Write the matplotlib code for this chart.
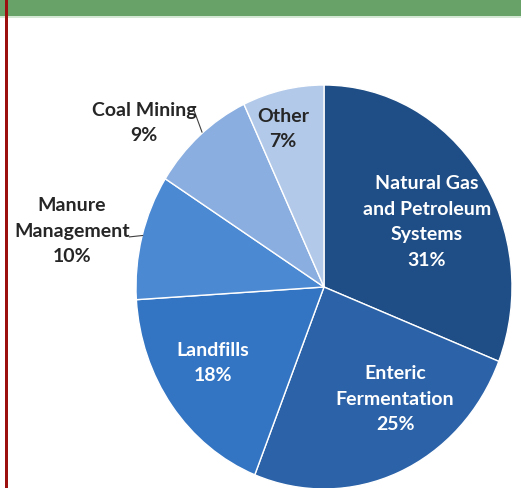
import matplotlib
matplotlib.use("Agg")
import matplotlib.pyplot as plt
from matplotlib.patches import Rectangle
from matplotlib.lines import Line2D
import numpy as np

categories = ["Natural Gas\nand Petroleum\nSystems", "Enteric\nFermentation", "Landfills",
              "Manure\nManagement", "Coal Mining", "Other"]
shares = [31, 25, 18, 10, 9, 7]
colors = ["#1F4E86", "#2B62A8", "#3475C3", "#4B89D3", "#8AAEE0", "#B2C9E9"]
text_colors = ["white", "white", "white", "#262626", "#262626", "#262626"]
label_pos = [(0.548, 0.327), (0.378, -0.550), (-0.590, -0.371),
             (-1.340, 0.282), (-0.957, 0.817), (-0.218, 0.787)]

W, H = 521, 489
fig = plt.figure(figsize=(W / 100, H / 100), dpi=100)
fig.patch.set_facecolor("white")

cx, cy, rx, ry = 324, 288, 188, 202
ax = fig.add_axes([0, 0, 1, 1])

wedges, _ = ax.pie(shares, colors=colors, startangle=90, counterclock=False,
                   radius=1.0, center=(0, 0),
                   wedgeprops=dict(edgecolor="white", linewidth=1.0))
ax.set_aspect("auto")
ax.set_xlim(-cx / rx, (W - cx) / rx)
ax.set_ylim(-(H - cy) / ry, cy / ry)
ax.axis("off")

for cat, val, col, (x, y) in zip(categories, shares, text_colors, label_pos):
    ax.text(x, y, f"{cat}\n{val}%", ha="center", va="center", color=col,
            fontsize=14, fontweight="bold", family="Lato", linespacing=1.62)

# leader lines
ax.add_line(Line2D([-1.035, -0.965], [0.248, 0.255], color="#404040", lw=0.8))
ax.add_line(Line2D([-0.690, -0.649], [0.871, 0.767], color="#404040", lw=0.8))

# top green banner
fig.patches.append(Rectangle((0, 1 - 17 / H), 1, 17 / H, transform=fig.transFigure,
                             facecolor="#68A268", edgecolor="none", zorder=5))
fig.patches.append(Rectangle((0, 1 - 19 / H), 1, 2 / H, transform=fig.transFigure,
                             facecolor="#D5E7D5", edgecolor="none", zorder=5))
# left red border
fig.patches.append(Rectangle((5 / W, 0), 2.5 / W, 1, transform=fig.transFigure,
                             facecolor="#9C1010", edgecolor="none", zorder=6))

fig.savefig("out.png", dpi=100)
